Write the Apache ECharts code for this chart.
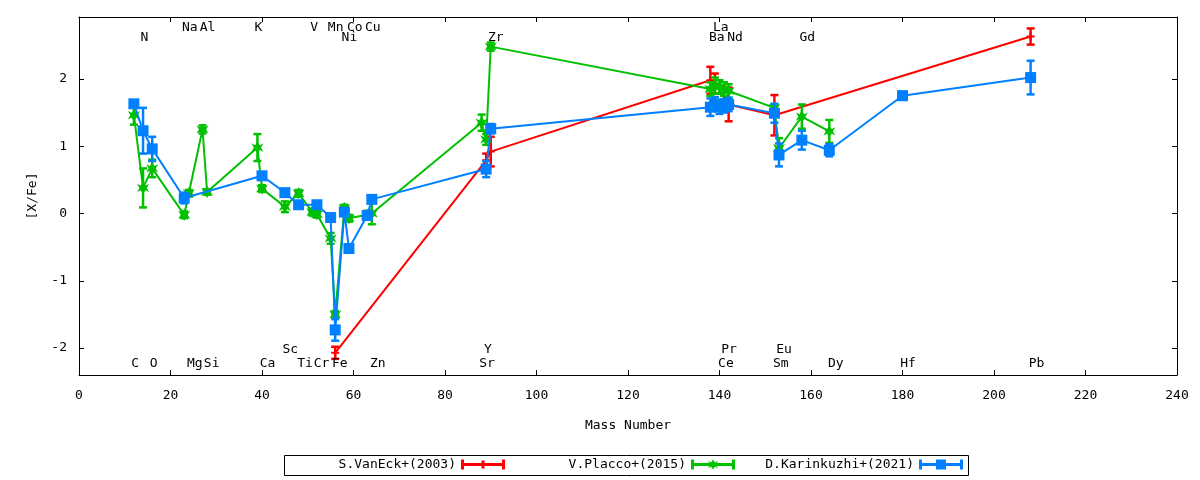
<!DOCTYPE html>
<html>
<head>
<meta charset="utf-8">
<script src="https://cdn.jsdelivr.net/npm/echarts@6/dist/echarts.min.js"></script>
<style>
  html, body { margin: 0; padding: 0; background: #fff; }
  #chart { width: 1200px; height: 480px; }
</style>
</head>
<body>
<div id="chart"></div>
<script>
// --- data ---
var xTicks = [0, 20, 40, 60, 80, 100, 120, 140, 160, 180, 200, 220, 240];
var yTicks = [-2, -1, 0, 1, 2];

// S.VanEck+(2003)
var vanEckMass = [56, 89, 90, 138, 139, 142, 152, 208];
var vanEckVal  = [-2.07, 0.79, 0.92, 1.98, 1.93, 1.62, 1.46, 2.63];
var vanEckErr  = [0.09, 0.10, 0.22, 0.20, 0.15, 0.25, 0.30, 0.12];

// V.Placco+(2015)
var placcoMass = [12, 14, 16, 23, 24, 27, 28, 39, 40, 45, 48, 51, 52, 55, 56, 58, 59, 63, 64,
                  88, 89, 90, 138, 139, 140, 141, 142, 152, 153, 158, 164];
var placcoVal  = [1.46, 0.38, 0.67, -0.02, 0.30, 1.25, 0.32, 0.98, 0.37, 0.10, 0.30, 0.02, -0.01,
                  -0.37, -1.50, 0.08, -0.07, -0.02, 0.00, 1.35, 1.10, 2.48, 1.85, 1.90, 1.88,
                  1.85, 1.82, 1.57, 0.97, 1.44, 1.22];
var placcoErr  = [0.14, 0.29, 0.13, 0.05, 0.05, 0.06, 0.04, 0.20, 0.05, 0.08, 0.05, 0.05, 0.05,
                  0.08, 0.05, 0.05, 0.05, 0.06, 0.16, 0.12, 0.08, 0.06, 0.10, 0.12, 0.10,
                  0.10, 0.10, 0.05, 0.15, 0.18, 0.17];

// D.Karinkuzhi+(2021)
var karinMass = [12, 14, 16, 23, 40, 45, 48, 52, 55, 56, 58, 59, 63, 64, 89, 90,
                 138, 139, 140, 141, 142, 152, 153, 158, 164, 180, 208];
var karinVal  = [1.63, 1.23, 0.96, 0.23, 0.56, 0.31, 0.13, 0.13, -0.06, -1.73, 0.02, -0.52,
                 -0.03, 0.21, 0.66, 1.26, 1.58, 1.63, 1.58, 1.60, 1.62, 1.49, 0.87, 1.09,
                 0.94, 1.75, 2.02];
var karinErr  = [0.04, 0.34, 0.18, 0.08, 0.04, 0.04, 0.04, 0.04, 0.04, 0.16, 0.04, 0.04,
                 0.04, 0.04, 0.12, 0.07, 0.13, 0.10, 0.10, 0.10, 0.10, 0.14, 0.17, 0.14,
                 0.09, 0.06, 0.25];

// element labels along the mass axis
var elemNames = ['Na', 'Al', 'K', 'V', 'Mn', 'Co', 'Cu', 'La',
                 'N', 'Ni', 'Zr', 'Ba', 'Nd', 'Gd',
                 'Sc', 'Y', 'Pr', 'Eu',
                 'C', 'O', 'Mg', 'Si', 'Ca', 'Ti', 'Cr', 'Fe', 'Zn', 'Sr', 'Ce', 'Sm', 'Dy', 'Hf', 'Pb'];
var elemMass  = [24.2, 28.1, 39.2, 51.4, 56.1, 60.3, 64.2, 140.3,
                 14.3, 59.1, 91.1, 139.4, 143.4, 159.2,
                 46.2, 89.4, 142.1, 154.1,
                 12.3, 16.3, 25.3, 29.0, 41.2, 49.4, 53.0, 57.0, 65.3, 89.2, 141.4, 153.4, 165.4, 181.2, 209.3];

// --- layout ---
var FONT = '"DejaVu Sans Mono", monospace';
var rowOf = {};
['Na','Al','K','V','Mn','Co','Cu','La'].forEach(function (n) { rowOf[n] = 2.76; });
['N','Ni','Zr','Ba','Nd','Gd'].forEach(function (n) { rowOf[n] = 2.61; });
['Sc','Y','Pr','Eu'].forEach(function (n) { rowOf[n] = -2.02; });
['C','O','Mg','Si','Ca','Ti','Cr','Fe','Zn','Sr','Ce','Sm','Dy','Hf','Pb'].forEach(function (n) { rowOf[n] = -2.23; });

function zip(m, v, e) {
    return m.map(function (x, i) { return [x, v[i], e[i]]; });
}

function errSeries(name, color, data, z) {
    return {
        name: name + ' err',
        type: 'custom',
        z: z,
        data: data,
        encode: { x: 0, y: 1 },
        renderItem: function (params, api) {
            var x = api.value(0), y = api.value(1), e = api.value(2);
            var hi = api.coord([x, y + e]);
            var lo = api.coord([x, y - e]);
            var w = 4;
            var st = { stroke: color, lineWidth: 2.5 };
            return {
                type: 'group',
                children: [
                    { type: 'line', shape: { x1: hi[0], y1: hi[1], x2: lo[0], y2: lo[1] }, style: st },
                    { type: 'line', shape: { x1: hi[0] - w, y1: hi[1], x2: hi[0] + w, y2: hi[1] }, style: st },
                    { type: 'line', shape: { x1: lo[0] - w, y1: lo[1], x2: lo[0] + w, y2: lo[1] }, style: st }
                ]
            };
        }
    };
}

function lineSeries(name, color, data, symbol, size, z) {
    return {
        name: name,
        type: 'line',
        z: z,
        data: data.map(function (d) { return [d[0], d[1]]; }),
        symbol: symbol,
        symbolSize: size,
        showSymbol: true,
        lineStyle: { color: color, width: 2 },
        itemStyle: { color: color }
    };
}

var plusSym = 'path://M3,0h2v3h3v2h-3v3h-2v-3h-3v-2h3z';
var starSym = 'path://M5,0L7,3L10,1.5L8,5L10,8.5L7,7L5,10L3,7L0,8.5L2,5L0,1.5L3,3Z';
var barIcon = 'M0,0h3v3.5h38v-3.5h3v10h-3v-3.5h-38v3.5h-3z';
var redIcon = 'path://' + barIcon + 'M20.5,1h3v8h-3z';
var greenIcon = 'path://' + barIcon + 'M22,0L24,3L27,1L25,5L27,9L24,7L22,10L20,7L17,9L19,5L17,1L20,3Z';
var blueIcon = 'path://' + barIcon + 'M17,0h10v10h-10z';

var names = ['S.VanEck+(2003)', 'V.Placco+(2015)', 'D.Karinkuzhi+(2021)'];
var colors = ['#ff0000', '#00c000', '#0080ff'];

function legendAt(i, right, icon) {
    return {
        data: [names[i]],
        right: right,
        top: 458,
        padding: 0,
        align: 'right',
        itemWidth: 44,
        itemHeight: 10,
        icon: icon,
        selectedMode: false,
        textStyle: { fontFamily: FONT, fontSize: 13, color: '#000' }
    };
}

function frameAxis(extra) {
    var base = {
        type: 'value',
        axisLine: { show: true, onZero: false, lineStyle: { color: '#000', width: 1 } },
        axisTick: { show: true, inside: true, length: 5, lineStyle: { color: '#000' } },
        axisLabel: { show: false },
        splitLine: { show: false }
    };
    for (var k in extra) { base[k] = extra[k]; }
    return base;
}

var elemData = elemNames.map(function (n, i) { return [elemMass[i], rowOf[n], n]; });

var chart = echarts.init(document.getElementById('chart'));
var option = {
    animation: false,
    backgroundColor: '#fff',
    grid: { left: 79, right: 23, top: 17, bottom: 105 },
    legend: [
        legendAt(0, 695, redIcon),
        legendAt(1, 465, greenIcon),
        legendAt(2, 237, blueIcon)
    ],
    graphic: [{
        type: 'rect',
        shape: { x: 284.5, y: 455.5, width: 684, height: 20 },
        style: { fill: 'none', stroke: '#000', lineWidth: 1 },
        silent: true
    }],
    xAxis: [
        frameAxis({
            position: 'bottom',
            min: xTicks[0],
            max: xTicks[xTicks.length - 1],
            interval: 20,
            name: 'Mass Number',
            nameLocation: 'middle',
            nameGap: 44,
            nameTextStyle: { fontFamily: FONT, fontSize: 13, color: '#000' },
            axisLabel: { fontFamily: FONT, fontSize: 13, color: '#000', margin: 14 }
        }),
        frameAxis({
            position: 'top',
            min: xTicks[0],
            max: xTicks[xTicks.length - 1],
            interval: 20
        })
    ],
    yAxis: [
        frameAxis({
            position: 'left',
            min: -2.4,
            max: 2.92,
            name: '[X/Fe]',
            nameLocation: 'middle',
            nameGap: 40,
            nameRotate: 90,
            nameTextStyle: { fontFamily: FONT, fontSize: 13, color: '#000' },
            axisTick: { show: true, inside: true, length: 5, customValues: yTicks, lineStyle: { color: '#000' } },
            axisLabel: { fontFamily: FONT, fontSize: 13, color: '#000', margin: 12, customValues: yTicks }
        }),
        frameAxis({
            position: 'right',
            min: -2.4,
            max: 2.92,
            axisTick: { show: true, inside: true, length: 5, customValues: yTicks, lineStyle: { color: '#000' } }
        })
    ],
    series: [
        errSeries(names[0], colors[0], zip(vanEckMass, vanEckVal, vanEckErr), 2),
        lineSeries(names[0], colors[0], zip(vanEckMass, vanEckVal, vanEckErr), plusSym, 8, 2),
        errSeries(names[1], colors[1], zip(placcoMass, placcoVal, placcoErr), 3),
        lineSeries(names[1], colors[1], zip(placcoMass, placcoVal, placcoErr), starSym, 12, 3),
        errSeries(names[2], colors[2], zip(karinMass, karinVal, karinErr), 4),
        lineSeries(names[2], colors[2], zip(karinMass, karinVal, karinErr), 'rect', 11, 4),
        {
            name: 'elements',
            type: 'custom',
            z: 5,
            silent: true,
            clip: false,
            data: elemData,
            encode: { x: 0, y: 1 },
            renderItem: function (params, api) {
                var p = api.coord([api.value(0), api.value(1)]);
                return {
                    type: 'text',
                    x: p[0],
                    y: p[1],
                    style: {
                        text: elemData[params.dataIndex][2],
                        font: '13px ' + FONT,
                        fill: '#000',
                        align: 'center',
                        verticalAlign: 'middle'
                    }
                };
            }
        }
    ]
};
chart.setOption(option);
</script>
</body>
</html>
